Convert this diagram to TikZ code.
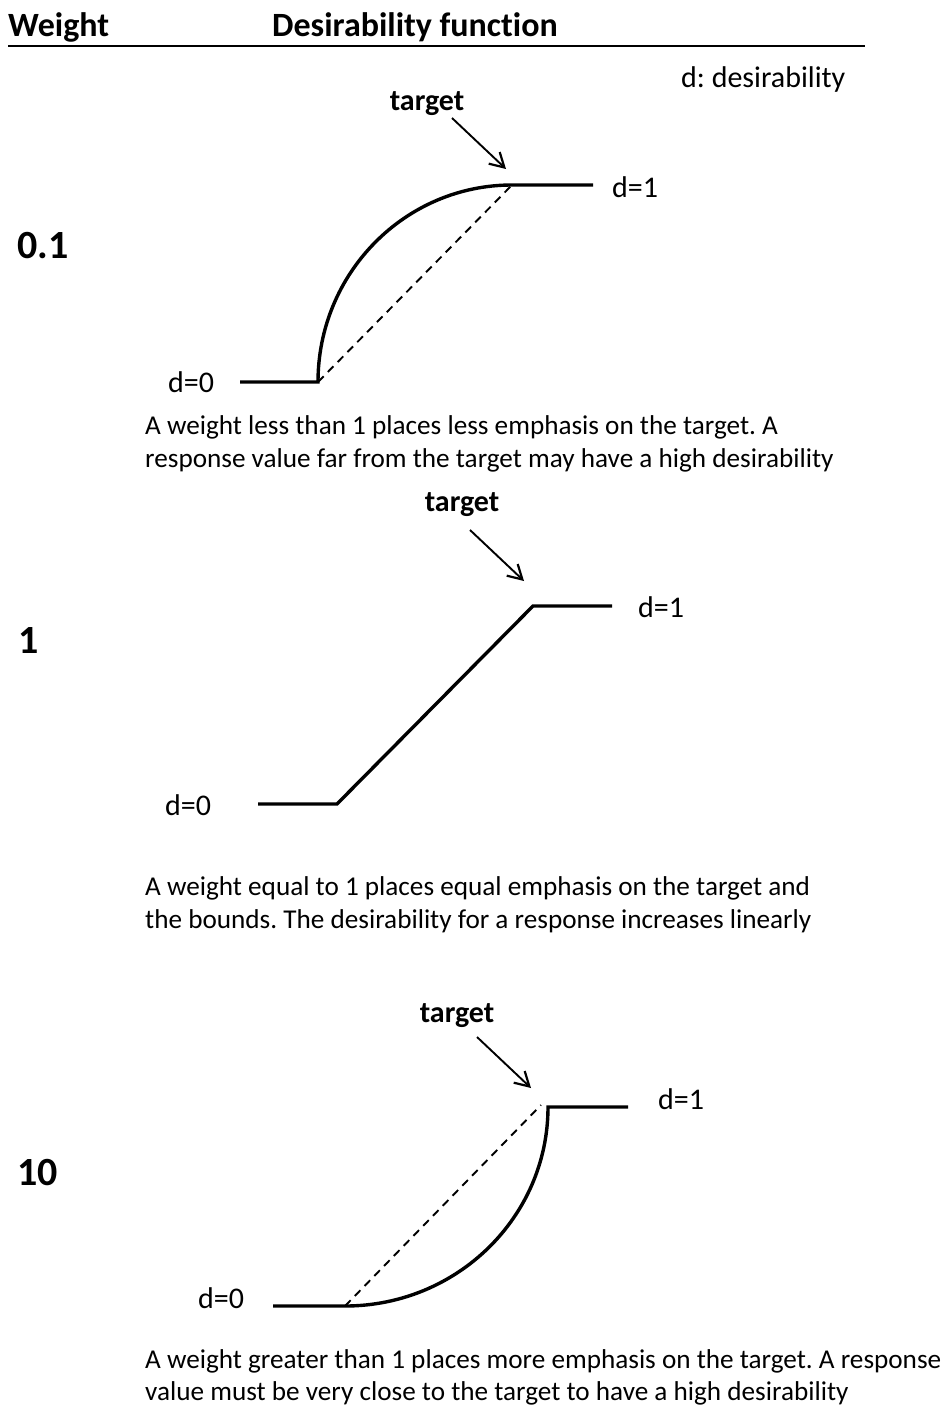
\documentclass[tikz,border=0pt]{standalone}
\usepackage{fontspec}
\setmainfont{Carlito}[Ligatures=NoCommon]
\usetikzlibrary{arrows.meta}
\frenchspacing
\tikzset{
  txt/.style={font=\fontsize{27.2}{32}\selectfont\frenchspacing, inner sep=0pt, anchor=base west},
  lab/.style={font=\fontsize{30}{34}\selectfont\frenchspacing, inner sep=0pt, anchor=base west},
  hdr/.style={font=\fontsize{34}{40}\selectfont\bfseries, inner sep=0pt, anchor=base west},
  wnum/.style={font=\fontsize{40}{46}\selectfont\bfseries, inner sep=0pt, anchor=base west},
  tgt/.style={font=\fontsize{30}{34}\selectfont\bfseries, inner sep=0pt, anchor=base},
  curve/.style={line width=3.4pt, line join=miter},
  dashln/.style={line width=1.9pt, dash pattern=on 8pt off 6pt},
  ptr/.style={line width=1.9pt, -{Straight Barb[length=14pt,width=16pt,line width=2.2pt]}},
  rule/.style={line width=2pt}
}
\begin{document}
\begin{tikzpicture}[x=1pt,y=-1pt]
\useasboundingbox (0,0) rectangle (946,1405);
% header
\node[hdr] (hw) at (8,37) {Weight};
\node[hdr] (hd) at (272,37) {Desirability function};
\coordinate (r1) at (8,46.5); \coordinate (r2) at (865,46.5);
\draw[rule] (r1) -- (r2);
\node[lab] (legend) at (681,87) {d: desirability};

% panel 1
\node[wnum] (w1) at (17,258) {0.1};
\node[tgt] (t1) at (427,110) {target};
\coordinate (a1s) at (452,118); \coordinate (a1e) at (506,169);
\draw[ptr] (a1s) -- (a1e);
\coordinate (p1a) at (240,382); \coordinate (p1b) at (318,382);
\coordinate (p1c) at (512,185); \coordinate (p1d) at (593,185);
\draw[curve] (p1a) -- (p1b) arc[start angle=180, end angle=90, x radius=194, y radius=-197] -- (p1d);
\draw[dashln] (p1b) -- (p1c);
\node[lab] (d01) at (168,392) {d=0};
\node[lab] (d11) at (612,197) {d=1};
\node[txt] (c1a) at (145,434) {A weight less than 1 places less emphasis on the target. A};
\node[txt] (c1b) at (145,467) {response value far from the target may have a high desirability};

% panel 2
\node[wnum] (w2) at (18,653) {1};
\node[tgt] (t2) at (462,511) {target};
\coordinate (a2s) at (470,530); \coordinate (a2e) at (524,581);
\draw[ptr] (a2s) -- (a2e);
\coordinate (p2a) at (258,804); \coordinate (p2b) at (337,804);
\coordinate (p2c) at (533,606); \coordinate (p2d) at (612,606);
\draw[curve] (p2a) -- (p2b) -- (p2c) -- (p2d);
\node[lab] (d02) at (165,815) {d=0};
\node[lab] (d12) at (638,617) {d=1};
\node[txt] (c2a) at (145,895) {A weight equal to 1 places equal emphasis on the target and};
\node[txt] (c2b) at (145,928) {the bounds. The desirability for a response increases linearly};

% panel 3
\node[wnum] (w3) at (17,1185) {10};
\node[tgt] (t3) at (457,1022) {target};
\coordinate (a3s) at (477,1037); \coordinate (a3e) at (531,1088);
\draw[ptr] (a3s) -- (a3e);
\coordinate (p3a) at (273,1306); \coordinate (p3b) at (345,1306);
\coordinate (p3c) at (548,1107); \coordinate (p3d) at (628,1107);
\coordinate (p3t) at (541,1105);
\draw[curve] (p3a) -- (p3b) arc[start angle=270, end angle=360, x radius=203, y radius=-199] -- (p3d);
\draw[dashln] (p3b) -- (p3t);
\node[lab] (d03) at (198,1308) {d=0};
\node[lab] (d13) at (658,1109) {d=1};
\node[txt] (c3a) at (145,1368) {A weight greater than 1 places more emphasis on the target. A response};
\node[txt] (c3b) at (145,1400) {value must be very close to the target to have a high desirability};
\end{tikzpicture}
\end{document}
